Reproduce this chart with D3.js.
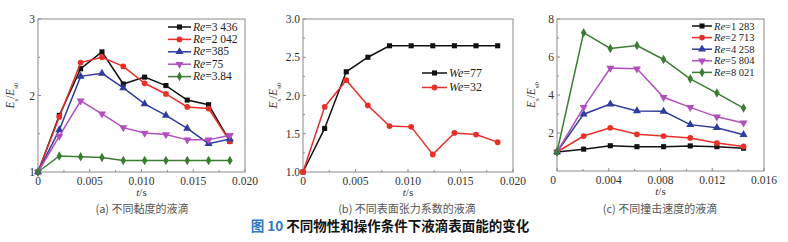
<!DOCTYPE html>
<html>
<head>
<meta charset="utf-8">
<script src="https://cdn.jsdelivr.net/npm/d3@7"></script>
<style>
  body { margin: 0; background: #fff; }
  text { font-family: "Liberation Serif", "DejaVu Serif", serif; }
</style>
</head>
<body>
<div id="vis-container"></div>
<script>
// time values (s)
var tAB = [0, 0.00206, 0.00412, 0.00618, 0.00824, 0.0103, 0.01236, 0.01442, 0.01648, 0.01854]
var tC = [0, 0.00206, 0.00412, 0.00618, 0.00824, 0.0103, 0.01236, 0.01442]

// (a) viscosity
var namesA = ['3 436', '2 042', '385', '75', '3.84']
var re3436 = [1.0, 1.74, 2.35, 2.57, 2.15, 2.24, 2.13, 1.94, 1.88, 1.40]
var re2042 = [1.0, 1.72, 2.43, 2.50, 2.38, 2.16, 2.02, 1.85, 1.83, 1.40]
var re385 = [1.0, 1.55, 2.25, 2.29, 2.10, 1.89, 1.74, 1.57, 1.37, 1.43]
var re75 = [1.0, 1.47, 1.93, 1.76, 1.58, 1.51, 1.49, 1.42, 1.42, 1.48]
var re384 = [1.0, 1.21, 1.20, 1.19, 1.15, 1.15, 1.15, 1.15, 1.15, 1.15]

// (b) surface tension
var namesB = ['77', '32']
var we77 = [1.0, 1.57, 2.31, 2.50, 2.65, 2.65, 2.65, 2.65, 2.65, 2.65]
var we32 = [1.0, 1.85, 2.20, 1.87, 1.60, 1.59, 1.23, 1.51, 1.49, 1.39]

// (c) impact velocity
var namesC = ['1 283', '2 713', '4 258', '5 804', '8 021']
var re1283 = [1.0, 1.15, 1.33, 1.28, 1.28, 1.32, 1.28, 1.20]
var re2713 = [1.0, 1.84, 2.27, 1.93, 1.84, 1.74, 1.47, 1.29]
var re4258 = [1.0, 2.99, 3.52, 3.16, 3.14, 2.44, 2.28, 1.91]
var re5804 = [1.0, 3.35, 5.42, 5.38, 3.88, 3.35, 2.85, 2.53]
var re8021 = [1.0, 7.28, 6.45, 6.60, 5.87, 4.85, 4.10, 3.31]

var xTicksAB = [0, 0.005, 0.010, 0.015, 0.020]
var xTicksC = [0, 0.004, 0.008, 0.012, 0.016]
var yTicksA = [1, 2, 3]
var yTicksB = [1.0, 1.5, 2.0, 2.5, 3.0]
var yTicksC = [2, 4, 6, 8]

var colors = ['#111111', '#e8302a', '#2e3d9e', '#b24fbf', '#3b7d32']
var symbols = [d3.symbolSquare, d3.symbolCircle, d3.symbolTriangle, 'down', d3.symbolDiamond]

var svg = d3.select('#vis-container').append('svg')
  .attr('width', 788)
  .attr('height', 242)

function marker(g, type, x, y, color) {
  if (type == 'down') {
    g.append('path')
      .attr('d', d3.symbol().type(d3.symbolTriangle).size(28)())
      .attr('transform', 'translate(' + x + ',' + y + ') rotate(180)')
      .attr('fill', color)
  } else {
    g.append('path')
      .attr('d', d3.symbol().type(type).size(type == d3.symbolTriangle ? 28 : 26)())
      .attr('transform', 'translate(' + x + ',' + y + ')')
      .attr('fill', color)
  }
}

function drawPanel(p) {
  var g = svg.append('g')
  var x = d3.scaleLinear().domain(p.xDomain).range([p.left, p.right])
  var y = d3.scaleLinear().domain(p.yDomain).range([p.bottom, p.top])

  // frame
  g.append('rect')
    .attr('x', p.left).attr('y', p.top)
    .attr('width', p.right - p.left).attr('height', p.bottom - p.top)
    .attr('fill', 'none').attr('stroke', '#8a8a8a').attr('stroke-width', 1)

  // x ticks (inside) + minor
  var xStep = p.xTicks[1] - p.xTicks[0]
  p.xTicks.forEach(function (v, i) {
    g.append('line').attr('x1', x(v)).attr('x2', x(v))
      .attr('y1', p.bottom).attr('y2', p.bottom - 3).attr('stroke', '#8a8a8a')
    if (i < p.xTicks.length - 1) {
      g.append('line').attr('x1', x(v + xStep / 2)).attr('x2', x(v + xStep / 2))
        .attr('y1', p.bottom).attr('y2', p.bottom - 2).attr('stroke', '#8a8a8a')
    }
    g.append('text')
      .attr('x', x(v) + (i == 0 ? p.zeroShift : 0)).attr('y', p.bottom + 13)
      .attr('text-anchor', 'middle')
      .style('font-size', '11.5px').attr('fill', '#333')
      .text(v == 0 ? '0' : d3.format('.3f')(v))
  })

  // y ticks + minor below each
  var yStep = p.yTicks[1] - p.yTicks[0]
  p.yTicks.forEach(function (v, i) {
    g.append('line').attr('x1', p.left).attr('x2', p.left + 3)
      .attr('y1', y(v)).attr('y2', y(v)).attr('stroke', '#8a8a8a')
    if (i > 0 || p.yMinorBelow) {
      g.append('line').attr('x1', p.left).attr('x2', p.left + 2)
        .attr('y1', y(v - yStep / 2)).attr('y2', y(v - yStep / 2)).attr('stroke', '#8a8a8a')
    }
    g.append('text')
      .attr('x', p.left - 3).attr('y', y(v) + 4)
      .attr('text-anchor', 'end')
      .style('font-size', '11.5px').attr('fill', '#333')
      .text(p.yFormat(v))
  })

  // y label
  var yl = g.append('text')
    .attr('transform', 'translate(' + p.yLabelX + ',' + ((p.top + p.bottom) / 2) + ') rotate(-90)')
    .attr('text-anchor', 'middle')
    .style('font-size', '11.5px').attr('fill', '#333')
  yl.append('tspan').style('font-style', 'italic').text('E')
  yl.append('tspan').attr('baseline-shift', 'sub').style('font-size', '7px').text('s')
  yl.append('tspan').text('/')
  yl.append('tspan').style('font-style', 'italic').text('E')
  yl.append('tspan').attr('baseline-shift', 'sub').style('font-size', '7px').text('s0')

  // x label
  var xl = g.append('text')
    .attr('x', (p.left + p.right) / 2).attr('y', p.bottom + 24)
    .attr('text-anchor', 'middle')
    .style('font-size', '11px').attr('fill', '#333')
  xl.append('tspan').style('font-style', 'italic').text('t')
  xl.append('tspan').text('/s')

  // caption
  g.append('text')
    .attr('x', p.captionX).attr('y', 213)
    .attr('text-anchor', 'middle')
    .style('font-size', '11px').attr('fill', '#555')
    .style('font-family', '"Noto Sans CJK SC", sans-serif')
    .text(p.caption)

  // series
  var line = d3.line()
    .x(function (d) { return x(d[0]) })
    .y(function (d) { return y(d[1]) })

  p.series.forEach(function (s, k) {
    var pts = s.values.map(function (v, i) { return [p.t[i], v] })
    g.append('path')
      .attr('d', line(pts))
      .attr('fill', 'none')
      .attr('stroke', s.color)
      .attr('stroke-width', 1.5)
    pts.forEach(function (d) {
      marker(g, s.symbol, x(d[0]), y(d[1]), s.color)
    })

    // legend
    var ly = p.legendY + k * p.legendGap
    g.append('line')
      .attr('x1', p.legendX).attr('x2', p.legendX + p.legendLen)
      .attr('y1', ly).attr('y2', ly)
      .attr('stroke', s.color).attr('stroke-width', 1.5)
    marker(g, s.symbol, p.legendX + p.legendLen / 2, ly, s.color)
    var lt = g.append('text')
      .attr('x', p.legendX + p.legendLen + 2).attr('y', ly + 3.5)
      .style('font-size', p.legendFont).attr('fill', '#222')
    lt.append('tspan').style('font-style', 'italic').text(p.legendVar)
    lt.append('tspan').text('=' + s.name)
  })
}

drawPanel({
  left: 38, right: 245, top: 19, bottom: 172,
  xDomain: [0, 0.020], yDomain: [1, 3],
  xTicks: xTicksAB, yTicks: yTicksA, yFormat: d3.format('d'),
  zeroShift: 0, yLabelX: 14,
  t: tAB,
  caption: '(a) 不同黏度的液滴', captionX: 142,
  legendVar: 'Re', legendX: 168, legendLen: 23, legendY: 27, legendGap: 12.4, legendFont: '11.5px',
  series: [re3436, re2042, re385, re75, re384].map(function (v, i) {
    return { name: namesA[i], values: v, color: colors[i], symbol: symbols[i] }
  })
})

drawPanel({
  left: 303, right: 513, top: 19, bottom: 172,
  xDomain: [0, 0.020], yDomain: [1, 3],
  xTicks: xTicksAB, yTicks: yTicksB, yFormat: d3.format('.1f'),
  zeroShift: 0, yLabelX: 277,
  t: tAB,
  caption: '(b) 不同表面张力系数的液滴', captionX: 407,
  legendVar: 'We', legendX: 422, legendLen: 25, legendY: 73, legendGap: 14.5, legendFont: '12px',
  series: [we77, we32].map(function (v, i) {
    return { name: namesB[i], values: v, color: colors[i], symbol: symbols[i] }
  })
})

drawPanel({
  left: 557, right: 764, top: 19, bottom: 171,
  xDomain: [0, 0.016], yDomain: [0, 8],
  xTicks: xTicksC, yTicks: yTicksC, yFormat: d3.format('d'),
  zeroShift: -4, yLabelX: 535, yMinorBelow: true,
  t: tC,
  caption: '(c) 不同撞击速度的液滴', captionX: 660,
  legendVar: 'Re', legendX: 692, legendLen: 20, legendY: 26, legendGap: 11.6, legendFont: '10.5px',
  series: [re1283, re2713, re4258, re5804, re8021].map(function (v, i) {
    return { name: namesC[i], values: v, color: colors[i], symbol: symbols[i] }
  })
})

// figure title
var title = svg.append('text')
  .attr('x', 390).attr('y', 231)
  .attr('text-anchor', 'middle')
  .style('font-family', '"Noto Sans CJK SC", sans-serif')
  .style('font-size', '13.5px').style('font-weight', 'bold')
title.append('tspan').attr('fill', '#2f78c4').text('图 10 ')
title.append('tspan').attr('fill', '#111').text('不同物性和操作条件下液滴表面能的变化')
</script>
</body>
</html>
